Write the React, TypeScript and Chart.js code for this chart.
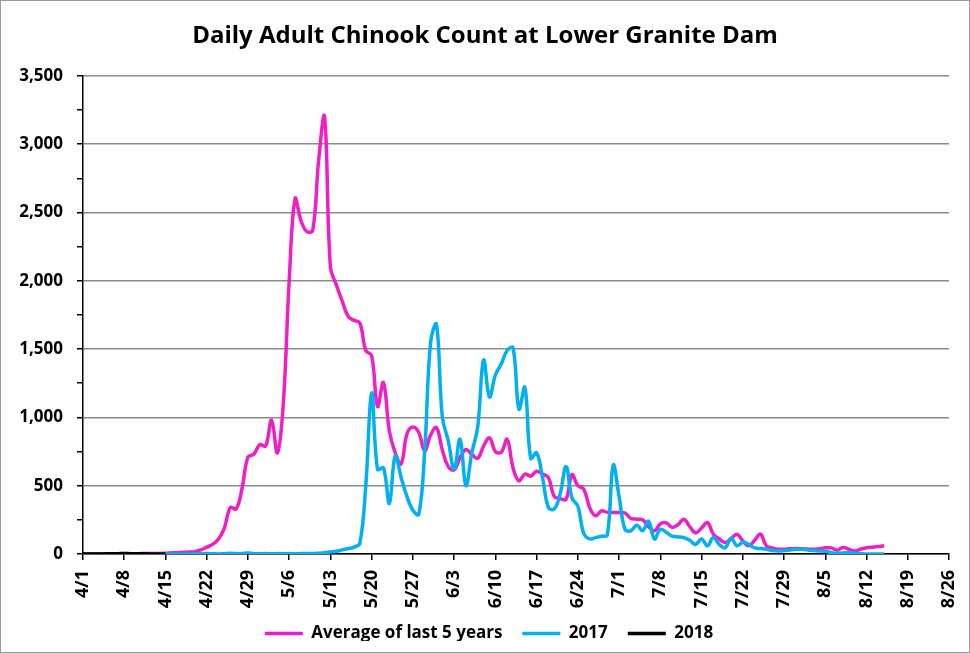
import React, { useEffect, useRef } from "react";
import { Chart, registerables } from "chart.js";

Chart.register(...registerables);

// Daily categories 4/1 .. 8/26
const monthDays: [number, number][] = [[4, 30], [5, 31], [6, 30], [7, 31], [8, 26]];
const categories: string[] = [];
for (const [m, n] of monthDays) for (let d = 1; d <= n; d++) categories.push(`${m}/${d}`);

// Average of last 5 years, daily from 4/1 to 8/15
const average5yr: number[] = [
  0, 0, 0, 1, 1, 1, 1, 2, 2, 2, 3, 3, 3, 4,
  5, 8, 10, 12, 14, 17, 30, 50, 70, 110, 190, 340, 330, 480,
  710, 730, 800, 790, 980, 740, 1100, 2000, 2600, 2440, 2360, 2370, 2880, 3200,
  2100, 1970, 1850, 1740, 1710, 1690, 1490, 1450, 1080, 1255, 900, 740,
  660, 880, 930, 890, 755, 870, 925, 760, 640, 615, 705, 765,
  730, 700, 790, 850, 750, 745, 840, 630, 535, 585, 570, 605,
  585, 560, 420, 405, 400, 580, 500, 475, 340, 280, 315, 305,
  303, 303, 300, 260, 255, 250, 200, 170, 220, 228, 195, 215,
  255, 200, 155, 190, 230, 145, 110, 85, 110, 145, 95, 60,
  100, 145, 60, 45, 35, 35, 38, 40, 38, 36, 34, 38,
  45, 45, 28, 48, 35, 22, 35, 46, 50, 55, 60,
];

// 2017, daily from 4/1 to 8/15
const y2017: number[] = [
  0, 0, 0, 0, 0, 0, 0, 0, 0, 0, 0, 0, 0, 0,
  0, 0, 0, 0, 0, 2, 2, 3, 2, 0, 2, 5, 3, 3,
  8, 2, 2, 3, 2, 3, 2, 3, 2, 3, 4, 4, 5, 10,
  15, 20, 30, 40, 50, 80, 500, 1180, 620, 630, 370, 720,
  560, 420, 320, 290, 750, 1550, 1680, 1000, 830, 620, 840, 500,
  740, 930, 1420, 1150, 1310, 1390, 1490, 1510, 1060, 1220, 700, 740,
  560, 340, 330, 440, 640, 410, 350, 150, 110, 120, 130, 140,
  650, 420, 180, 170, 210, 170, 240, 110, 180, 160, 130, 125,
  120, 100, 70, 110, 60, 120, 70, 45, 115, 60, 85, 70,
  45, 40, 35, 25, 22, 25, 30, 34, 34, 30, 25, 22,
  20, 10, 5, 8, 10, 5, 2, 0, 0, 0, 0,
];

// 2018, daily from 4/1 to 4/15
const y2018: number[] = [0, 0, 0, 0, 1, 1, 2, 4, 2, 1, 1, 1, 0, 0, 0];

const seriesNames = ["Average of last 5 years", "2017", "2018"];
const seriesColors = ["#EF1FC6", "#00B0F0", "#000000"];

const FONT = "'Open Sans', Lato, sans-serif";

const legendPlacer = {
  id: "legendPlacer",
  afterLayout(chart: any) {
    const l = chart.legend;
    if (!l) return;
    const h = l.height;
    l.top = 604;
    l.bottom = 604 + h;
    l.left += 4;
    l.right += 4;
  },
};

export default function App() {
  const ref = useRef<HTMLCanvasElement | null>(null);

  useEffect(() => {
    if (!ref.current) return;
    const chart = new Chart(ref.current, {
      type: "line",
      data: {
        labels: categories,
        datasets: [average5yr, y2017, y2018].map((d, i) => ({
          label: seriesNames[i],
          data: d,
          borderColor: seriesColors[i],
          backgroundColor: seriesColors[i],
          borderWidth: 3.5,
          pointRadius: 0,
          tension: 0.4,
          order: 2 - i,
          pointStyle: "line",
        })),
      },
      plugins: [legendPlacer],
      options: {
        animation: false,
        responsive: true,
        maintainAspectRatio: false,
        layout: { padding: { left: 0, right: 0, top: 0, bottom: 0 } },
        plugins: {
          title: {
            display: true,
            text: "Daily Adult Chinook Count at Lower Granite Dam",
            color: "#000",
            font: { family: FONT, size: 24, weight: "bold" },
            padding: { top: 21, bottom: 25 },
          },
          legend: {
            position: "bottom",
            maxHeight: 36,
            labels: {
              usePointStyle: true,
              pointStyle: "line",
              pointStyleWidth: 38,
              boxWidth: 38,
              boxHeight: 4,
              color: "#000",
              padding: 20,
              font: { family: FONT, size: 17, weight: "bold" },
              sort: (a: any, b: any) => a.datasetIndex - b.datasetIndex,
            },
          },
          tooltip: { enabled: false },
        },
        scales: {
          x: {
            type: "category",
            grid: {
              drawOnChartArea: false,
              color: "#000",
              tickLength: 6,
              lineWidth: 1.5,
            },
            border: { color: "#000", width: 1.5 },
            ticks: {
              autoSkip: false,
              maxRotation: 90,
              minRotation: 90,
              color: "#000",
              padding: 10,
              font: { family: FONT, size: 18, weight: "bold" },
              callback: (_v: any, i: number) => (i % 7 === 0 ? categories[i] : null),
            },
            afterFit: (s: any) => {
              s.height = 62;
              s.paddingRight = 20;
              s.paddingLeft = 0;
            },
          },
          y: {
            min: 0,
            max: 3500,
            grid: {
              color: (ctx: any) => (ctx.tick && ctx.tick.value % 500 === 0 ? "#8a8a8a" : "rgba(0,0,0,0)"),
              tickColor: "#000",
              tickLength: 6,
              lineWidth: 1.5,
            },
            border: { color: "#000", width: 1.5 },
            ticks: {
              stepSize: 250,
              color: "#000",
              padding: 14,
              font: { family: FONT, size: 17, weight: "bold" },
              callback: (v: any) => (Number(v) % 500 === 0 ? Number(v).toLocaleString("en-US") : ""),
            },
            afterFit: (s: any) => {
              s.width = 82;
            },
          },
        },
      },
    });
    return () => chart.destroy();
  }, []);

  return (
    <div
      style={{
        position: "absolute",
        left: 0,
        top: 0,
        width: 970,
        height: 653,
        boxSizing: "border-box",
        border: "1px solid #9a9a9a",
        background: "#fff",
      }}
    >
      <div style={{ position: "relative", width: 968, height: 651 }}>
        <canvas ref={ref} />
      </div>
    </div>
  );
}
